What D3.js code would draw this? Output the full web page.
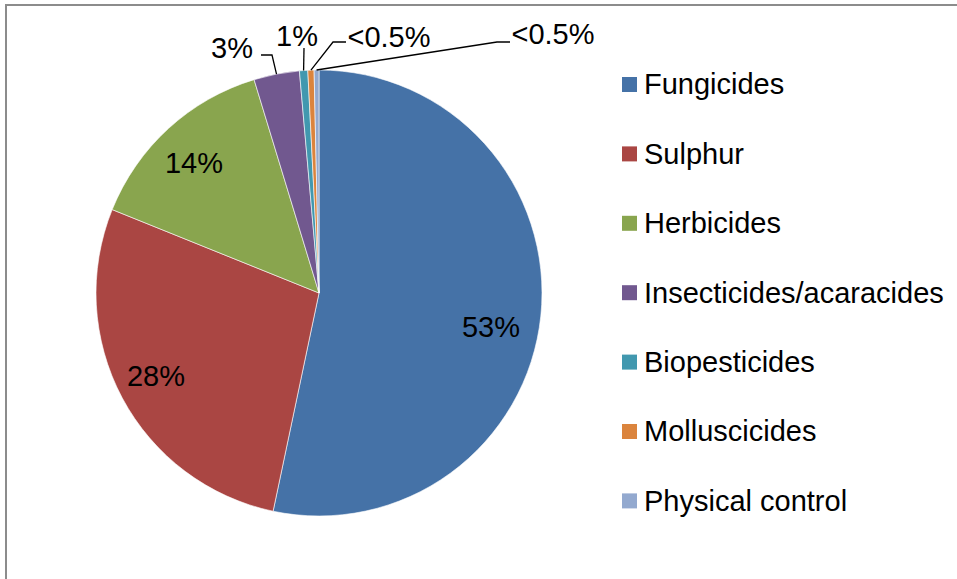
<!DOCTYPE html>
<html>
<head>
<meta charset="utf-8">
<script src="https://cdn.jsdelivr.net/npm/d3@7"></script>
<style>
  html, body { margin: 0; padding: 0; background: #fff; }
  svg { display: block; font-family: "Liberation Sans", Arial, sans-serif; }
</style>
</head>
<body>
<svg id="chart" width="957" height="579"></svg>
<script>
// Pesticide use shares (%)
var categories = ['Fungicides', 'Sulphur', 'Herbicides', 'Insecticides/acaracides', 'Biopesticides', 'Molluscicides', 'Physical control'];
var values = [53.3, 27.8, 14.2, 3.3, 0.6, 0.45, 0.35];
var labels = ['53%', '28%', '14%', '3%', '1%', '<0.5%', '<0.5%'];
var colors = ['#4572A7', '#AA4643', '#89A54E', '#71588F', '#4198AF', '#DB843D', '#93A9CF'];

var svg = d3.select('#chart');
var cx = 319, cy = 293, R = 223;

// Frame (only top and left edges are visible in the crop)
svg.append('path').attr('d', 'M6,579 V5 H957')
  .attr('fill', 'none').attr('stroke', '#8c8c8c').attr('stroke-width', 2);

var data = categories.map(function(c, i) { return { name: c, value: values[i], label: labels[i], color: colors[i] }; });
var pie = d3.pie().sort(null).value(function(d) { return d.value; });
var arcs = pie(data);
var arc = d3.arc().innerRadius(0).outerRadius(R);

var g = svg.append('g').attr('transform', 'translate(' + cx + ',' + cy + ')');
g.selectAll('path.slice').data(arcs).join('path')
  .attr('class', 'slice')
  .attr('d', arc)
  .attr('fill', function(d) { return d.data.color; })
  .attr('stroke', '#fff').attr('stroke-width', 0.6);

// Inside labels for the big slices
var inner = { 0: [172, 34], 1: [-163, 83], 2: [-125, -130] };
// Outside labels for the small slices: label pos and leader bend
var outside = {
  3: { text: [-87, -245], bend: [-47, -238] },
  4: { text: [-22, -257], bend: [-15, -245] },
  5: { text: [70, -256], bend: [14, -251] },
  6: { text: [234, -259], bend: [178, -251] }
};

arcs.forEach(function(a, i) {
  var mid = (a.startAngle + a.endAngle) / 2;
  if (inner[i]) {
    g.append('text').attr('x', inner[i][0]).attr('y', inner[i][1])
      .attr('text-anchor', 'middle').attr('dy', '0.35em')
      .attr('font-size', 29).attr('fill', '#000').text(a.data.label);
    return;
  }
  var o = outside[i];
  var edge = [Math.sin(mid) * R, -Math.cos(mid) * R];
  var pts;
  if (i === 3) pts = [[o.text[0] + 29, o.bend[1]], o.bend, [edge[0], edge[1]]];
  else if (i === 4) pts = [[o.bend[0], o.bend[1]], [edge[0], edge[1]]];
  else pts = [[o.text[0] - 43, o.bend[1]], o.bend, [edge[0], edge[1]]];
  g.append('path').attr('d', d3.line()(pts))
    .attr('fill', 'none').attr('stroke', '#000').attr('stroke-width', 1.3);
  g.append('text').attr('x', o.text[0]).attr('y', o.text[1])
    .attr('text-anchor', 'middle').attr('dy', '0.35em')
    .attr('font-size', 29).attr('fill', '#000').text(a.data.label);
});

// Legend
var legend = svg.append('g').attr('transform', 'translate(622,84)');
var row = legend.selectAll('g').data(data).join('g')
  .attr('transform', function(d, i) { return 'translate(0,' + (i * 69.4) + ')'; });
row.append('rect').attr('x', 0).attr('y', -7).attr('width', 15).attr('height', 15)
  .attr('fill', function(d) { return d.color; });
row.append('text').attr('x', 22).attr('y', 0).attr('dy', '0.36em')
  .attr('font-size', 29).attr('fill', '#000').text(function(d) { return d.name; });
</script>
</body>
</html>
